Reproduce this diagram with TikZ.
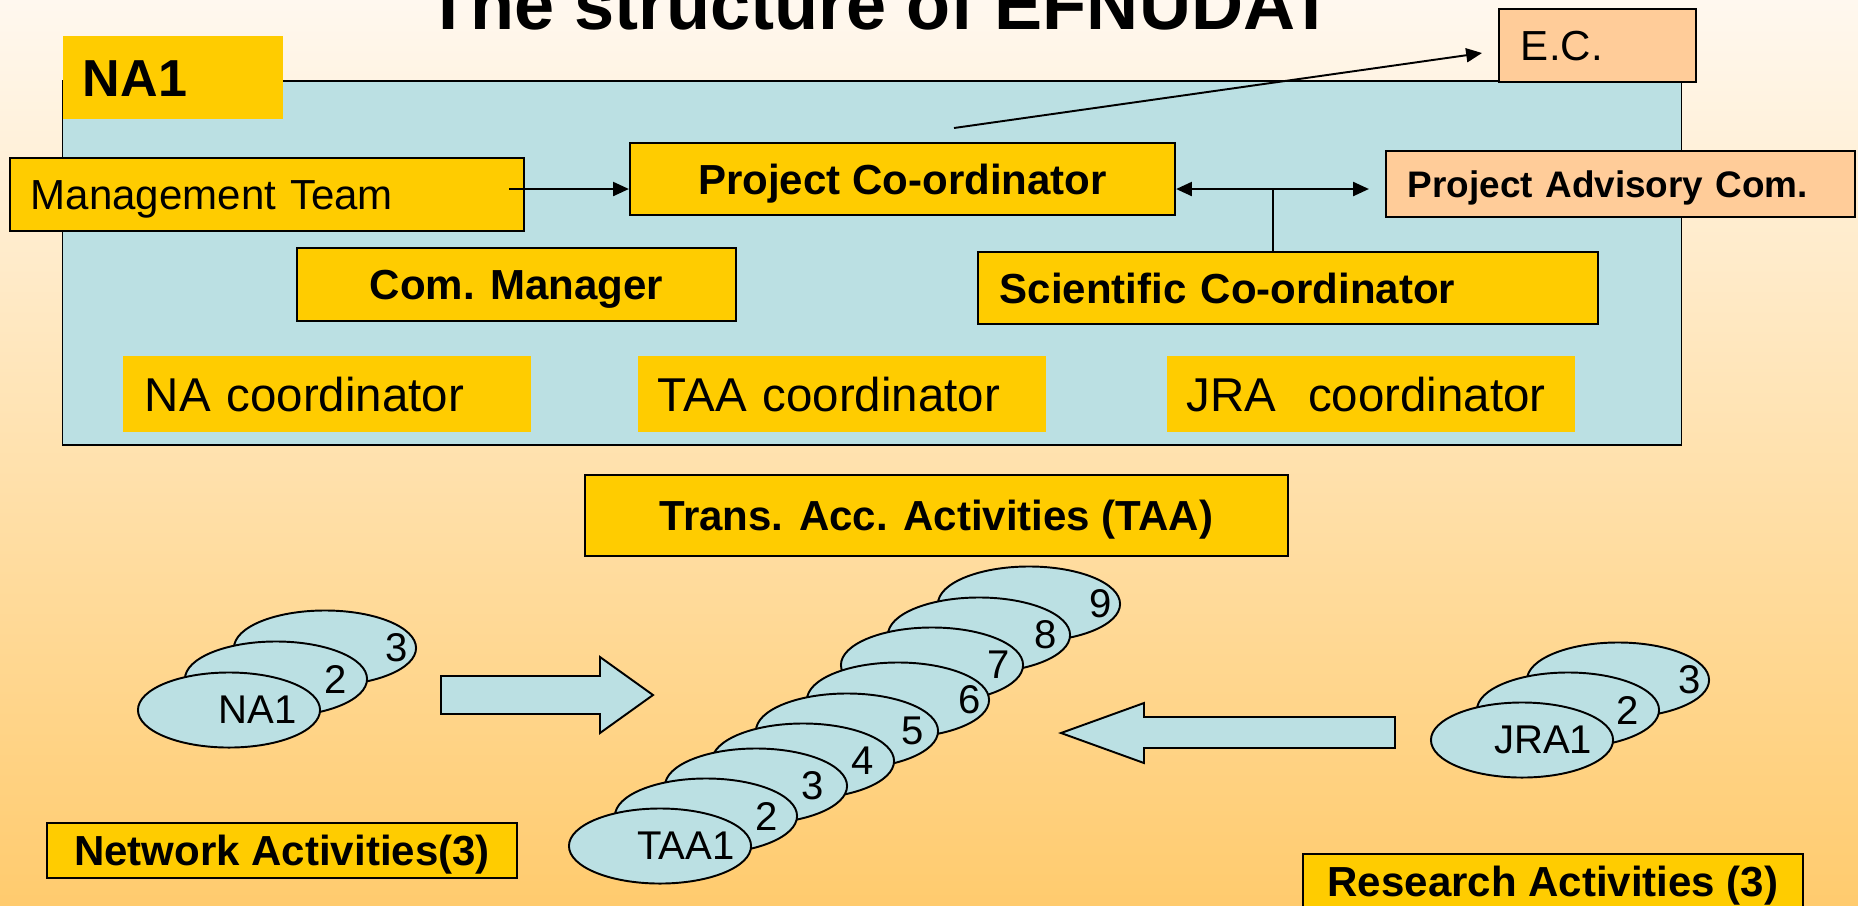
\documentclass[tikz,border=0pt]{standalone}
\usepackage{fontspec}
\setmainfont{Liberation Sans}
\usepackage{tikz}
\usetikzlibrary{shapes.geometric}
\usetikzlibrary{arrows.meta}
\definecolor{boxyellow}{HTML}{FFCC00}
\definecolor{actblue}{HTML}{BBE0E3}
\definecolor{peach}{HTML}{FFCC99}
\definecolor{bgtop}{HTML}{FFF8EF}
\definecolor{bgbottom}{HTML}{FFCB6E}

\begin{document}
\begin{tikzpicture}[x=0.01cm,y=-0.01cm,line width=0.55pt,
   box/.style={draw,fill=boxyellow,rectangle,inner sep=0pt},
   tag/.style={fill=boxyellow,rectangle,inner sep=0pt},
   peachbox/.style={draw,fill=peach,rectangle,inner sep=0pt},
   panel/.style={draw,fill=actblue,rectangle,inner sep=0pt},
   act/.style={draw,fill=actblue,ellipse,minimum width=1.82cm,minimum height=0.75cm,inner sep=0pt},
   bigarrow/.style={draw,fill=actblue,line join=miter},
   plain/.style={font=\fontsize{11.95pt}{14pt}\selectfont,text height=0.30cm,text depth=0pt},
   bold/.style={font=\fontsize{11.95pt}{14pt}\selectfont\bfseries,text height=0.30cm,text depth=0pt},
   coord/.style={font=\fontsize{13.5pt}{16pt}\selectfont,text height=0.34cm,text depth=0pt},
   small/.style={font=\fontsize{10.5pt}{12.5pt}\selectfont\bfseries,text height=0.265cm,text depth=0pt},
   big/.style={font=\fontsize{14.8pt}{17pt}\selectfont\bfseries,text height=0.37cm,text depth=0pt},
   every label/.style={font=\fontsize{11.4pt}{13pt}\selectfont},
   conn/.style={-{Triangle[length=4.5pt,width=4pt]}},
   both/.style={{Triangle[length=4.5pt,width=4pt]}-{Triangle[length=4.5pt,width=4pt]}}]
   \useasboundingbox (0,0) rectangle (1858,905);
   \clip (0,0) rectangle (1858,905);
   \shade[top color=bgtop,bottom color=bgbottom] (0,0) rectangle (1858,905);
   \node[font=\fontsize{20.5pt}{24pt}\selectfont\bfseries,anchor=base] (title) at (880,29) {The structure of EFNUDAT};

   \node[panel,minimum width=16.18cm,minimum height=3.64cm] (panel) at (872,263) {};
   \node[tag,big,text width=1.80cm,inner xsep=0.20cm,minimum height=0.83cm,align=left] (na_tag) at (173,77.5) {NA1};
   \node[box,plain,text width=4.72cm,inner xsep=0.21cm,minimum height=0.73cm,align=left] (mt) at (267,194.5) {Management Team};
   \node[box,bold,minimum width=5.45cm,minimum height=0.72cm] (pc) at (902.5,179) {Project Co-ordinator};
   \node[peachbox,plain,text width=1.53cm,inner xsep=0.22cm,minimum height=0.73cm,align=left] (ec) at (1597.5,45.5) {E.C.};
   \node[peachbox,small,text width=4.25cm,inner xsep=0.22cm,minimum height=0.66cm,align=left] (pac) at (1620.5,184) {Project Advisory Com.};
   \node[box,bold,text width=5.76cm,inner xsep=0.22cm,minimum height=0.72cm,align=left] (sc) at (1288,288) {Scientific Co-ordinator};
   \node[box,bold,minimum width=4.39cm,minimum height=0.73cm] (cm) at (516.5,284.5) {Com. Manager};
   \node[tag,coord,text width=3.64cm,inner xsep=0.22cm,minimum height=0.76cm,align=left] (na_coord) at (327,394) {NA coordinator};
   \node[tag,coord,text width=3.68cm,inner xsep=0.20cm,minimum height=0.76cm,align=left] (taa_coord) at (842,394) {TAA coordinator};
   \node[tag,coord,text width=3.68cm,inner xsep=0.20cm,minimum height=0.76cm,align=left] (jra_coord) at (1371,394) {JRA\ \ coordinator};

   \coordinate (ecfrom) at (954,128);
   \coordinate (split) at (1273,189);
   \draw[conn] (ecfrom) -- ([xshift=-0.16cm,yshift=-0.075cm]ec.west);
   \draw[conn] ([xshift=-0.16cm,yshift=0.055cm]mt.east) -- ([yshift=-0.1cm]pc.west);
   \draw[both] ([yshift=-0.1cm]pc.east) -- ([xshift=-0.16cm,yshift=-0.05cm]pac.west);
   \draw (split) -- (split |- sc.north);

   \node[box,bold,minimum width=7.03cm,minimum height=0.81cm] (taa_box) at (936.5,515.5) {Trans. Acc. Activities (TAA)};
   \node[box,bold,minimum width=4.70cm,minimum height=0.55cm] (na_name) at (282,850.5) {Network Activities(3)};
   \node[box,bold,minimum width=5.00cm,minimum height=0.55cm] (jra_name) at (1553,881.5) {Research Activities (3)};

   \node[act,label={[xshift=0.72cm]center:3}] (na_3) at (325,648) {};
   \node[act,label={[xshift=0.60cm]center:2}] (na_2) at (276,679) {};
   \node[act,label={[xshift=0.285cm]center:NA1}] (na_1) at (229,710) {};

   \node[act,label={[xshift=0.715cm]center:9}] (taa_9) at (1029,604) {};
   \node[act,label={[xshift=0.67cm]center:8}] (taa_8) at (979,635) {};
   \node[act,label={[xshift=0.67cm]center:7}] (taa_7) at (932,665) {};
   \node[act,label={[xshift=0.715cm]center:6}] (taa_6) at (898,700) {};
   \node[act,label={[xshift=0.66cm]center:5}] (taa_5) at (847,731) {};
   \node[act,label={[xshift=0.60cm]center:4}] (taa_4) at (803,761) {};
   \node[act,label={[xshift=0.57cm]center:3}] (taa_3) at (756,786) {};
   \node[act,label={[xshift=0.61cm]center:2}] (taa_2) at (706,816) {};
   \node[act,label={[xshift=0.26cm]center:TAA1}] (taa_1) at (660,846) {};

   \node[act,label={[xshift=0.72cm]center:3}] (jra_3) at (1618,680) {};
   \node[act,label={[xshift=0.60cm]center:2}] (jra_2) at (1568,710) {};
   \node[act,label={[xshift=0.21cm]center:JRA1}] (jra_1) at (1522,740) {};

   \draw[bigarrow] (441,676) -- (600,676) -- (600,657) -- (653,695) -- (600,733) -- (600,714) -- (441,714) -- cycle;
   \draw[bigarrow] (1395,717) -- (1144,717) -- (1144,703) -- (1061,733) -- (1144,763) -- (1144,748) -- (1395,748) -- cycle;
\end{tikzpicture}
\end{document}
